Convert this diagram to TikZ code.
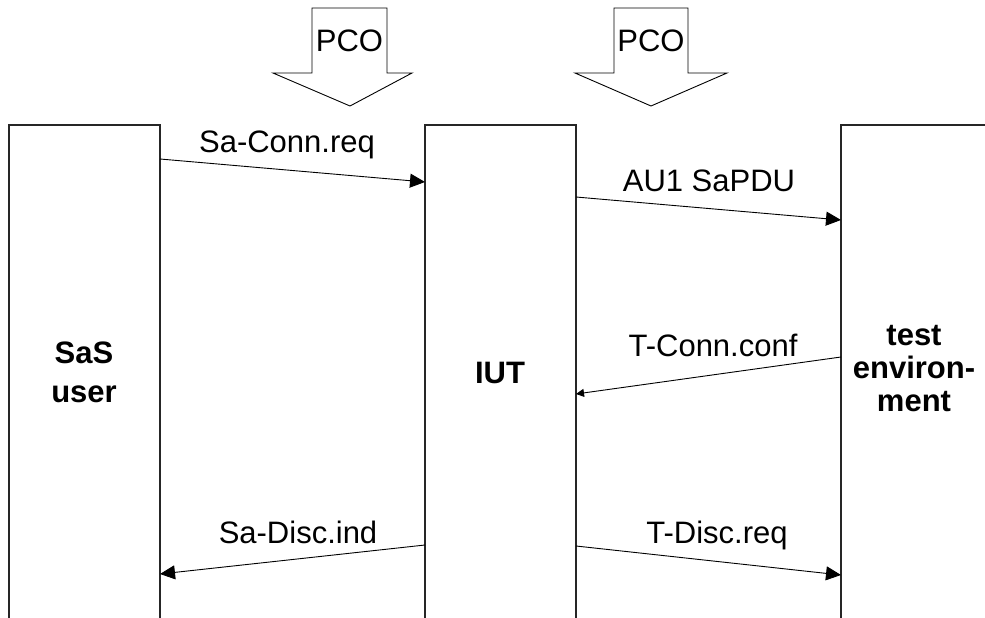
\documentclass[tikz,border=0pt]{standalone}
\usepackage{fontspec}
\setmainfont{Liberation Sans}
\usetikzlibrary{arrows.meta}
\begin{document}
\begin{tikzpicture}[x=1pt,y=-1pt,
  lifeline/.style={line width=1.3pt,black!85},
  msg/.style={line width=0.9pt,-{Triangle[length=15pt,width=14pt]}},
  smallmsg/.style={line width=0.9pt,-{Triangle[length=8pt,width=8pt]}},
  lbl/.style={font=\fontsize{31}{37}\selectfont,anchor=base,inner sep=0pt},
  ent/.style={font=\fontsize{31}{37}\selectfont\bfseries,anchor=base,inner sep=0pt},
  pco/.style={draw,line width=0.9pt,fill=white}]
\useasboundingbox (0,0) rectangle (985,618);
% lifeline boxes (open at the bottom)
\draw[lifeline] (9,618) -- (9,125) -- (160,125) -- (160,618);
\draw[lifeline] (425,618) -- (425,125) -- (576,125) -- (576,618);
\draw[lifeline] (841,618) -- (841,125) -- (985,125);
% entity labels
\node[ent] (sas1) at (84,363) {SaS};
\node[ent] (sas2) at (84,402) {user};
\node[ent] (iut) at (500,383) {IUT};
\node[ent] (env1) at (914,345) {test};
\node[ent] (env2) at (914,378) {environ-};
\node[ent] (env3) at (914,411) {ment};
% PCO arrows
\draw[pco] (312,8) -- (387,8) -- (387,73) -- (412,73) -- (350,106) -- (273,73) -- (312,73) -- cycle;
\node[lbl] (pco1) at (349.5,52) {PCO};
\draw[pco] (614,8) -- (688,8) -- (688,73) -- (727,73) -- (651,106) -- (575,73) -- (614,73) -- cycle;
\node[lbl] (pco2) at (651,52) {PCO};
% message end points
\coordinate (a1) at (160,159); \coordinate (b1) at (425,182);
\coordinate (a2) at (576,197); \coordinate (b2) at (841,220);
\coordinate (a3) at (841,357); \coordinate (b3) at (576,394);
\coordinate (a4) at (425,545); \coordinate (b4) at (160,574);
\coordinate (a5) at (576,546); \coordinate (b5) at (841,575);
\draw[msg] (a1) -- (b1);
\draw[msg] (a2) -- (b2);
\draw[smallmsg] (a3) -- (b3);
\draw[msg] (a4) -- (b4);
\draw[msg] (a5) -- (b5);
% message labels
\node[lbl] (l1) at (287,152) {Sa-Conn.req};
\node[lbl] (l2) at (709,191) {AU1 SaPDU};
\node[lbl] (l3) at (713,356) {T-Conn.conf};
\node[lbl] (l4) at (298,543) {Sa-Disc.ind};
\node[lbl] (l5) at (717,543) {T-Disc.req};
\end{tikzpicture}
\end{document}
